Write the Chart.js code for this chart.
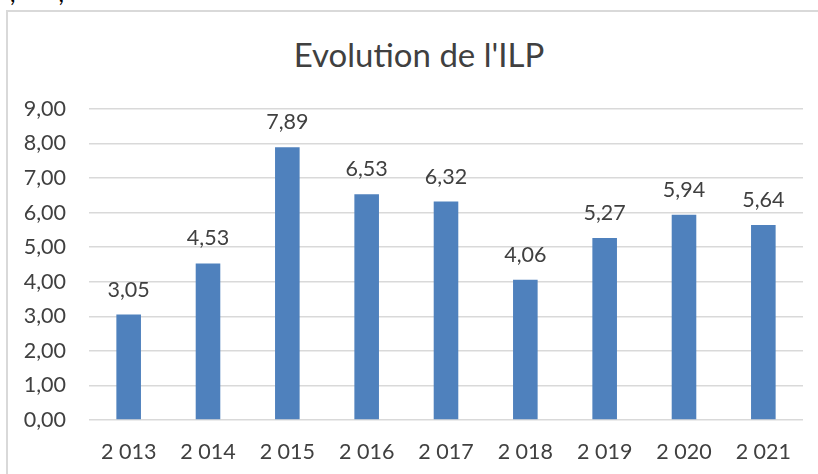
<!DOCTYPE html>
<html>
<head>
<meta charset="utf-8">
<script src="https://cdn.jsdelivr.net/npm/chart.js@4/dist/chart.umd.min.js"></script>
<style>
    html, body { margin: 0; padding: 0; background: #fff; overflow: hidden; }
    #wrap { position: relative; width: 818px; height: 474px; }
    #frame { position: absolute; left: 6px; top: 10px; width: 900px; height: 600px;
             border-top: 2px solid #d9d9d9; border-left: 2px solid #d9d9d9; }
    #scrap { position: absolute; left: 10px; top: -22px; font: 24px Lato, sans-serif; color: #000; }
    #title { position: absolute; left: 419px; top: 34px; transform: translateX(-50%);
             font: 33px Lato, sans-serif; line-height: 40px; color: #404040; white-space: nowrap; }
    canvas { position: absolute; left: 0; top: 0; }
</style>
</head>
<body>
<div id="wrap">
    <div id="scrap">,&nbsp;&nbsp;&nbsp;&nbsp;&nbsp;&nbsp;&nbsp;,</div>
    <div id="frame"></div>
    <div id="title">Evolution de l'ILP</div>
    <canvas id="ilpChart" width="818" height="474"></canvas>
</div>
<script>
const years = ['2 013', '2 014', '2 015', '2 016', '2 017', '2 018', '2 019', '2 020', '2 021'];
const ilpValues = [3.05, 4.53, 7.89, 6.53, 6.32, 4.06, 5.27, 5.94, 5.64];
const yTicks = [0, 1, 2, 3, 4, 5, 6, 7, 8, 9];

const textColor = '#404040';
const fmt = v => v.toFixed(2).replace('.', ',');

// value labels above each bar
const valueLabels = {
    id: 'valueLabels',
    afterDatasetsDraw(chart) {
        const ctx = chart.ctx;
        const meta = chart.getDatasetMeta(0);
        ctx.save();
        ctx.font = '21.5px Lato, sans-serif';
        ctx.fillStyle = textColor;
        ctx.textAlign = 'center';
        ctx.textBaseline = 'alphabetic';
        meta.data.forEach((bar, i) => {
            ctx.fillText(fmt(ilpValues[i]), bar.x, bar.y - 18);
        });
        ctx.restore();
    }
};

const ctx = document.getElementById('ilpChart').getContext('2d');
new Chart(ctx, {
    type: 'bar',
    data: {
        labels: years,
        datasets: [{
            label: 'ILP',
            data: ilpValues,
            backgroundColor: '#4f81bd',
            categoryPercentage: 1,
            barPercentage: 0.31
        }]
    },
    options: {
        responsive: false,
        animation: false,
        layout: { padding: { top: 109, left: 0, right: 15, bottom: 0 } },
        plugins: {
            legend: { display: false },
            title: { display: false },
            tooltip: { enabled: false }
        },
        scales: {
            x: {
                grid: { display: false },
                border: { display: false },
                ticks: { color: textColor, font: { family: 'Lato', size: 21.5 }, padding: 11, maxRotation: 0 },
                afterFit: s => { s.height = 54; }
            },
            y: {
                min: yTicks[0],
                max: yTicks[yTicks.length - 1],
                afterBuildTicks: s => { s.ticks = yTicks.map(v => ({ value: v })); },
                grid: { color: '#d9d9d9', lineWidth: 1.5, drawTicks: false },
                border: { display: false },
                ticks: { color: textColor, font: { family: 'Lato', size: 21.5 }, padding: 23, callback: v => fmt(v) },
                afterFit: s => { s.width = 89; }
            }
        }
    },
    plugins: [valueLabels]
});
</script>
</body>
</html>
